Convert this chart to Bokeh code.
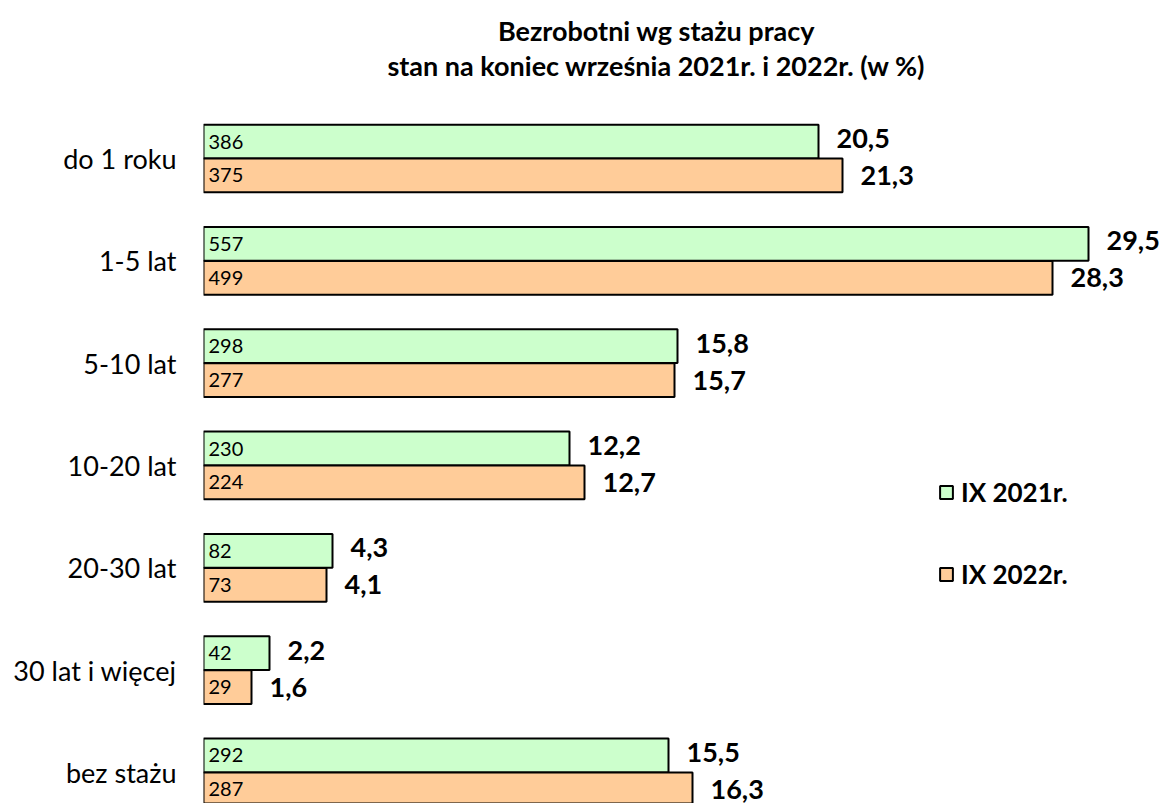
from bokeh.plotting import figure
from bokeh.models import Range1d, FixedTicker, ColumnDataSource, Legend, LegendItem, Label
from bokeh.core.properties import value
from bokeh.embed import file_html
from bokeh.resources import INLINE

categories = ["do 1 roku", "1-5 lat", "5-10 lat", "10-20 lat", "20-30 lat", "30 lat i więcej", "bez stażu"]
counts_2021 = [386, 557, 298, 230, 82, 42, 292]
counts_2022 = [375, 499, 277, 224, 73, 29, 287]
pct_2021 = [20.5, 29.5, 15.8, 12.2, 4.3, 2.2, 15.5]
pct_2022 = [21.3, 28.3, 15.7, 12.7, 4.1, 1.6, 16.3]
series_names = ["IX 2021r.", "IX 2022r."]
title_lines = ["Bezrobotni wg stażu pracy", "stan na koniec września 2021r. i 2022r. (w %)"]

FONT = "Lato"
GREEN = "#CCFFCC"
ORANGE = "#FFCC99"

W, H = 1163, 803
LEFT = 203
px_per_unit_x = 30.0
px_per_unit_y = 102.33
frame_w = W - LEFT
x_end = frame_w / px_per_unit_x
# group 0 centre at screen y=158
y_top = (0 - 158) / px_per_unit_y
y_bot = y_top + H / px_per_unit_y

p = figure(width=W, height=H, output_backend="svg", toolbar_location=None,
           x_range=Range1d(0, x_end), y_range=Range1d(y_bot, y_top),
           min_border_left=LEFT, min_border_right=0, min_border_top=0, min_border_bottom=0)
p.outline_line_color = None
p.xgrid.visible = False
p.ygrid.visible = False
p.xaxis.visible = False

idx = list(range(len(categories)))
off = 0.166
bh = 0.33

def fmt(v):
    return f"{v:.1f}".replace(".", ",")

src1 = ColumnDataSource(dict(y=[i - off for i in idx], v=pct_2021,
                             c=[str(c) for c in counts_2021], lab=[fmt(v) for v in pct_2021]))
src2 = ColumnDataSource(dict(y=[i + off for i in idx], v=pct_2022,
                             c=[str(c) for c in counts_2022], lab=[fmt(v) for v in pct_2022]))

r1 = p.hbar(y="y", right="v", left=0, height=bh, source=src1, fill_color=GREEN,
            line_color="black", line_width=2)
r2 = p.hbar(y="y", right="v", left=0, height=bh, source=src2, fill_color=ORANGE,
            line_color="black", line_width=2)

for src, dy in ((src1, -3), (src2, 0)):
    p.text(x=0, y="y", text="c", source=src, x_offset=5, text_align="left",
           text_baseline="middle", text_font=value(FONT), text_font_size="20px", text_color="black")
    p.text(x="v", y="y", text="lab", source=src, x_offset=18, y_offset=dy, text_align="left",
           text_baseline="middle", text_font=value(FONT), text_font_size="27px",
           text_font_style="bold", text_color="black")

# y axis with category labels
p.yaxis.ticker = FixedTicker(ticks=idx)
p.yaxis.major_label_overrides = {i: c for i, c in zip(idx, categories)}
p.yaxis.axis_line_color = None
p.yaxis.major_tick_line_color = None
p.yaxis.minor_tick_line_color = None
p.yaxis.major_label_standoff = 21
p.yaxis.major_label_text_font = FONT
p.yaxis.major_label_text_font_size = "27px"
p.yaxis.major_label_text_color = "black"

# title
title_x = (656 - LEFT) / px_per_unit_x
for k, line in enumerate(title_lines):
    ty = (30 + 35 * k - 158) / px_per_unit_y
    p.add_layout(Label(x=title_x, y=ty, text=line, text_align="center", text_baseline="middle",
                       text_font=FONT, text_font_size="27px", text_font_style="bold",
                       text_color="black"))

legend = Legend(items=[LegendItem(label=series_names[0], renderers=[r1]),
                       LegendItem(label=series_names[1], renderers=[r2])],
                location=(938 - LEFT, 803 - 590), orientation="vertical",
                glyph_width=16, glyph_height=16, label_standoff=7, spacing=50,
                padding=0, margin=0, border_line_color=None, background_fill_alpha=0,
                label_text_font=FONT, label_text_font_size="26px", label_text_font_style="bold",
                label_text_color="black")
p.add_layout(legend)

open("out.html", "w").write(file_html(p, INLINE))
